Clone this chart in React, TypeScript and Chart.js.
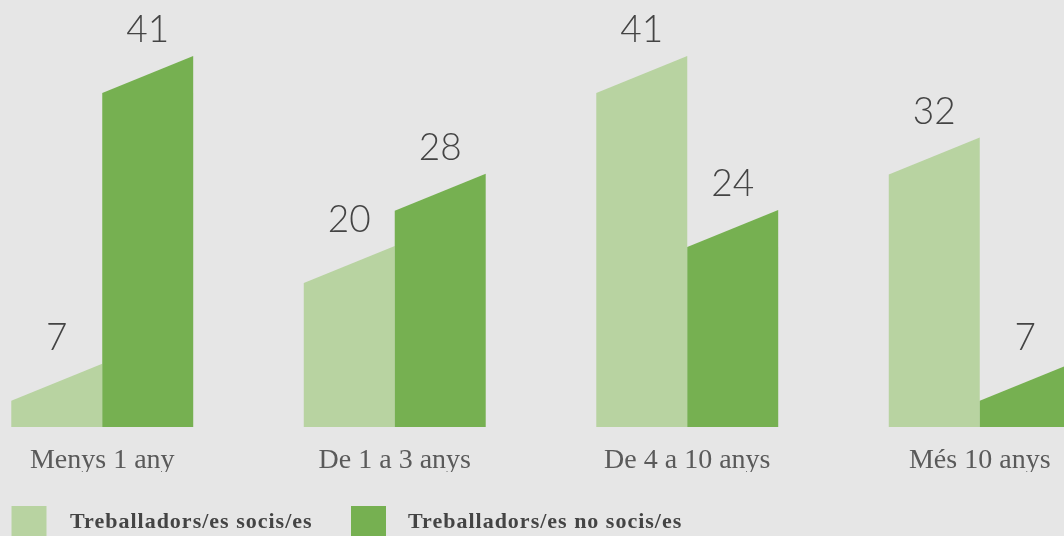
import React, { useEffect, useRef } from "react";
import { Chart, registerables } from "chart.js";

Chart.register(...registerables);

const categories = ["Menys 1 any", "De 1 a 3 anys", "De 4 a 10 anys", "Més 10 anys"];
const seriesNames = ["Treballadors/es socis/es", "Treballadors/es no socis/es"];
const sociValues = [7, 20, 41, 32];
const noSociValues = [41, 28, 24, 7];
const colors = ["#b8d3a1", "#76b051"];

const SLANT = 37;
const OFFSET_X = 44;

const slantBars = {
  id: "slantBars",
  beforeDatasetsDraw(chart: any) {
    const ctx = chart.ctx;
    ctx.save();
    chart.data.datasets.forEach((ds: any, di: number) => {
      const meta = chart.getDatasetMeta(di);
      meta.data.forEach((el: any) => {
        const p = el.getProps(["x", "y", "base", "width"], true);
        const l = p.x - p.width / 2;
        const r = p.x + p.width / 2;
        const topL = Math.min(p.base, p.y + SLANT);
        ctx.fillStyle = ds.backgroundColor;
        ctx.beginPath();
        ctx.moveTo(l, p.base);
        ctx.lineTo(l, topL);
        ctx.lineTo(r, p.y);
        ctx.lineTo(r, p.base);
        ctx.closePath();
        ctx.fill();
      });
    });
    chart.data.datasets.forEach((ds: any, di: number) => {
      const meta = chart.getDatasetMeta(di);
      meta.data.forEach((el: any, i: number) => {
        const p = el.getProps(["x", "y"], true);
        ctx.fillStyle = "#444444";
        ctx.font = "300 37px Lato, 'Open Sans', sans-serif";
        ctx.textAlign = "center";
        ctx.textBaseline = "alphabetic";
        ctx.fillText(String(ds.data[i]), p.x, p.y - 14);
      });
    });
    ctx.restore();
    return false;
  },
  afterDraw(chart: any) {
    const ctx = chart.ctx;
    ctx.save();
    const boxX = [11.5, 351];
    const textX = [70, 408];
    chart.data.datasets.forEach((ds: any, di: number) => {
      ctx.fillStyle = ds.backgroundColor;
      ctx.fillRect(boxX[di] + OFFSET_X, 506, 35, 35);
      ctx.fillStyle = "#444444";
      ctx.font = "bold 22px 'Liberation Serif', serif";
      try {
        ctx.letterSpacing = "1px";
      } catch (e) {}
      ctx.textAlign = "left";
      ctx.textBaseline = "alphabetic";
      ctx.fillText(ds.label, textX[di] + OFFSET_X, 527.5);
    });
    ctx.restore();
  },
};

export default function App() {
  const ref = useRef<HTMLCanvasElement | null>(null);
  useEffect(() => {
    if (!ref.current) return;
    const chart = new Chart(ref.current, {
      type: "bar",
      data: {
        labels: categories,
        datasets: [
          { label: seriesNames[0], data: sociValues, backgroundColor: colors[0] },
          { label: seriesNames[1], data: noSociValues, backgroundColor: colors[1] },
        ],
      },
      options: {
        responsive: false,
        animation: false,
        layout: { padding: { top: 0, left: 0, right: 0, bottom: 64 } },
        datasets: { bar: { barPercentage: 1, categoryPercentage: 0.622 } },
        plugins: { legend: { display: false }, tooltip: { enabled: false } },
        scales: {
          x: {
            grid: { display: false, drawTicks: false },
            border: { display: false },
            afterFit: (s: any) => {
              s.height = 45;
            },
            ticks: {
              padding: 17,
              color: "#5a5a5a",
              font: { family: "'Liberation Serif', serif", size: 28 },
              maxRotation: 0,
            },
          },
          y: { display: false, min: 0, max: 47.2 },
        },
      },
      plugins: [slantBars],
    });
    return () => chart.destroy();
  }, []);
  return (
    <div
      style={{
        position: "fixed",
        left: 0,
        top: 0,
        width: 1064,
        height: 536,
        overflow: "hidden",
        background: "#e6e6e6",
      }}
    >
      <canvas
        ref={ref}
        width={1170}
        height={536}
        style={{ position: "absolute", left: -OFFSET_X, top: 0, width: 1170, height: 536 }}
      />
    </div>
  );
}
